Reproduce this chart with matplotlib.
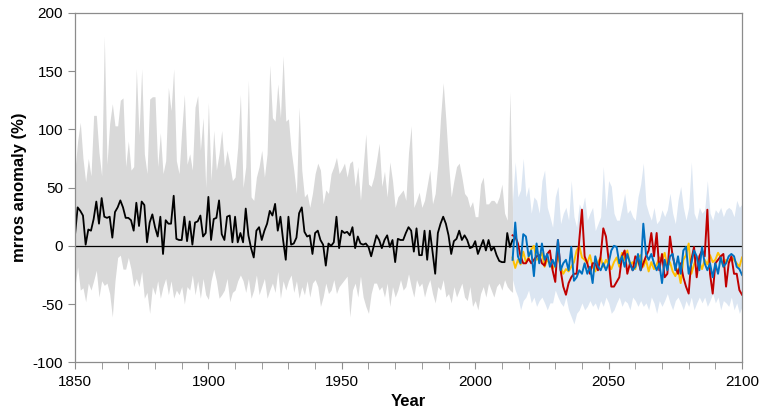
import numpy as np
import matplotlib.pyplot as plt

plt.rcParams['font.family'] = ['Liberation Sans', 'DejaVu Sans']
plt.rcParams['axes.unicode_minus'] = False

# historical period 1850-2014
hist_years = np.arange(1850, 2015)
hist_mean = [9, 33, 30, 26, 1, 14, 13, 23, 38, 19,
             41, 25, 24, 25, 7, 29, 33, 39, 33, 24,
             24, 22, 13, 37, 17, 38, 35, 3, 20, 27,
             16, 8, 25, -7, 22, 19, 19, 43, 6, 5,
             5, 25, 4, 21, 1, 20, 21, 26, 8, 11,
             42, 5, 23, 24, 39, 10, 5, 25, 26, 3,
             25, 3, 11, 3, 32, 9, -2, -10, 13, 16,
             5, 13, 19, 30, 26, 36, 13, 25, 5, -12,
             25, 1, 2, 7, 28, 33, 12, 8, 9, -7,
             11, 13, 5, 1, -17, 2, 0, 3, 25, -2,
             13, 11, 12, 9, 16, -2, 8, 2, 1, 2,
             -1, -9, 0, 9, 5, -2, 5, 9, -1, 5,
             -14, 6, 5, 5, 11, 16, 13, -5, 15, -8,
             -8, 13, -12, 13, -5, -24, 11, 19, 25, 19,
             9, -7, 4, 6, 13, 5, 9, 5, -2, -1,
             4, -7, -1, 5, -4, 5, -4, -1, -8, -13,
             -14, -14, 11, -1, 5]
hist_max = [65, 90, 106, 75, 55, 75, 60, 112, 112, 80,
            60, 180, 70, 105, 122, 103, 103, 125, 127, 68,
            90, 65, 68, 152, 95, 152, 79, 62, 126, 128,
            128, 68, 97, 62, 73, 136, 116, 152, 73, 62,
            99, 130, 70, 79, 65, 119, 129, 82, 110, 50,
            123, 56, 99, 65, 79, 99, 68, 82, 70, 56,
            59, 85, 130, 50, 68, 142, 42, 39, 59, 68,
            82, 59, 79, 155, 110, 107, 139, 110, 163, 107,
            109, 82, 65, 45, 119, 65, 42, 45, 33, 45,
            62, 71, 65, 36, 48, 45, 62, 68, 76, 62,
            66, 71, 59, 71, 73, 51, 68, 39, 68, 96,
            53, 51, 59, 73, 88, 51, 64, 42, 72, 56,
            33, 42, 45, 48, 39, 80, 103, 33, 39, 46,
            33, 39, 52, 65, 36, 45, 71, 110, 140, 108,
            71, 42, 56, 68, 71, 59, 45, 42, 33, 38,
            25, 25, 53, 59, 36, 36, 39, 39, 36, 42,
            53, 28, 22, 132, 30]
hist_min = [-35, -18, -38, -36, -48, -32, -38, -30, -21, -44,
            -30, -34, -32, -41, -61, -30, -10, -8, -20, -20,
            -10, -20, -35, -28, -35, -22, -45, -40, -58, -35,
            -42, -30, -45, -35, -28, -42, -30, -45, -38, -42,
            -35, -50, -35, -38, -25, -42, -30, -45, -28, -42,
            -46, -30, -20, -30, -45, -42, -38, -28, -48, -40,
            -38, -30, -25, -30, -40, -28, -45, -38, -25, -42,
            -35, -28, -45, -38, -32, -40, -22, -45, -30, -38,
            -30, -25, -40, -30, -45, -35, -42, -30, -44, -32,
            -29, -35, -52, -44, -32, -41, -38, -29, -41, -35,
            -32, -29, -26, -61, -38, -32, -44, -26, -44, -52,
            -58, -41, -32, -32, -38, -35, -44, -32, -52, -35,
            -44, -38, -29, -38, -35, -24, -35, -44, -29, -35,
            -32, -44, -35, -29, -41, -49, -35, -38, -29, -44,
            -41, -49, -35, -44, -38, -32, -44, -47, -35, -52,
            -47, -55, -41, -35, -44, -32, -38, -44, -35, -32,
            -38, -29, -35, -38, -40]

# scenario period 2014-2100
fut_years = np.arange(2014, 2101)
fut_max = [40, 72, 42, 48, 75, 42, 51, 28, 42, 39,
           28, 56, 65, 33, 25, 16, 42, 51, 19, 28,
           33, 22, 56, 25, 16, 36, 31, 42, 22, 28,
           33, 13, 19, 25, 68, 31, 56, 51, 28, 22,
           22, 33, 45, 28, 31, 25, 22, 42, 53, 71,
           36, 28, 22, 33, 19, 22, 31, 25, 31, 45,
           28, 19, 39, 51, 33, 22, 33, 72, 28, 22,
           33, 28, 31, 56, 28, 22, 31, 28, 33, 25,
           31, 33, 31, 25, 39, 33, 36]
fut_min = [-29, -38, -44, -55, -47, -44, -38, -49, -44, -52,
           -47, -44, -49, -55, -49, -49, -38, -44, -49, -52,
           -44, -55, -61, -67, -58, -55, -49, -55, -52, -47,
           -52, -49, -55, -47, -52, -44, -49, -58, -55, -49,
           -44, -52, -47, -49, -55, -44, -47, -52, -47, -52,
           -49, -55, -44, -49, -58, -47, -52, -47, -41, -49,
           -55, -47, -44, -49, -55, -47, -52, -44, -55, -49,
           -44, -49, -44, -52, -47, -41, -49, -44, -55, -47,
           -49, -52, -44, -55, -49, -58, -52]
ssp_yellow = [-10, -19, -12, -16, -5, -14, -10, -3, 0, -12,
              -10, -6, -18, -12, -15, -20, -16, -9, -18, -24,
              -20, -22, -18, -14, -4, 0, -10, -12, -15, -8,
              -18, -22, -14, -10, -18, -12, -16, -20, -14, -10,
              -18, -6, -12, -4, -16, -14, -20, -10, -8, -18,
              -12, -22, -14, -20, -16, -10, -12, -6, -18, -14,
              -22, -26, -20, -32, -12, -8, 2, -24, -16, -10,
              -14, -20, -12, -16, -8, -14, -12, -6, -10, -18,
              -12, -14, -10, -12, -15, -18, -10]
ssp_red = [9, 8, 2, -9, -15, -15, -11, -15, -12, -9,
           -8, -15, -17, -7, -4, -21, -31, 5, -21, -35,
           -42, -32, -27, -24, -24, 5, 31, -9, -15, -24,
           -15, -15, -21, -9, 15, 8, -12, -35, -35, -31,
           -27, -9, -4, -24, -15, -21, -9, -12, -21, -15,
           -9, -4, 11, -9, 11, -21, -7, -27, -24, 8,
           -9, -18, -24, -15, -27, -35, -41, -12, -1, -27,
           -9, -4, -9, 31, -24, -41, -15, -12, -9, -7,
           -35, -15, -9, -24, -24, -38, -42]
ssp_blue = [-12, 20, -9, -15, 10, 8, -9, -4, -26, 2,
            -15, 2, -12, -7, -18, -12, -18, 5, -21, -15,
            -12, -21, -1, -30, -27, -21, -24, -15, -24, -18,
            -32, -9, -18, -21, -15, -21, -15, -4, 0, -1,
            -15, -9, -18, -7, -15, -21, -18, -7, -21, 19,
            -7, -12, -7, -15, -21, -15, -32, -12, -21, -9,
            -7, -21, -9, -24, -4, -1, -24, -15, -4, -9,
            -21, -1, -15, -21, -15, -27, -15, -24, -10, -18,
            -15, -9, -7, -9, -18, -20, -25]

fig = plt.figure(figsize=(7.65, 4.15), dpi=100)
ax = fig.add_axes([0.098, 0.127, 0.872, 0.842])

ax.fill_between(hist_years, hist_min, hist_max, color='#d9d9d9', lw=0)
ax.fill_between(fut_years, fut_min, fut_max, color='#dce6f2', lw=0)
ax.axhline(0, color='black', lw=0.9)
ax.plot(hist_years, hist_mean, color='black', lw=1.3)
ax.plot(fut_years, ssp_yellow, color='#ffc000', lw=1.4)
ax.plot(fut_years, ssp_red, color='#c00000', lw=1.4)
ax.plot(fut_years, ssp_blue, color='#0070c0', lw=1.4)

ax.set_xlim(1850, 2100)
ax.set_ylim(-100, 200)
ax.set_xticks(np.arange(1850, 2101, 50))
ax.set_xticks(np.arange(1850, 2101, 10), minor=True)
ax.set_yticks(np.arange(-100, 201, 50))
for s in ax.spines.values():
    s.set_color('#8c8c8c')
    s.set_linewidth(0.9)
ax.tick_params(which='both', direction='out', length=5, color='#8c8c8c', labelsize=11)
ax.tick_params(axis='x', pad=4)
ax.set_xlabel('Year', fontsize=12, fontweight='bold', labelpad=4)
ax.set_ylabel('mrros anomaly (%)', fontsize=12, fontweight='bold', labelpad=4)

fig.savefig('out.png', dpi=100)
